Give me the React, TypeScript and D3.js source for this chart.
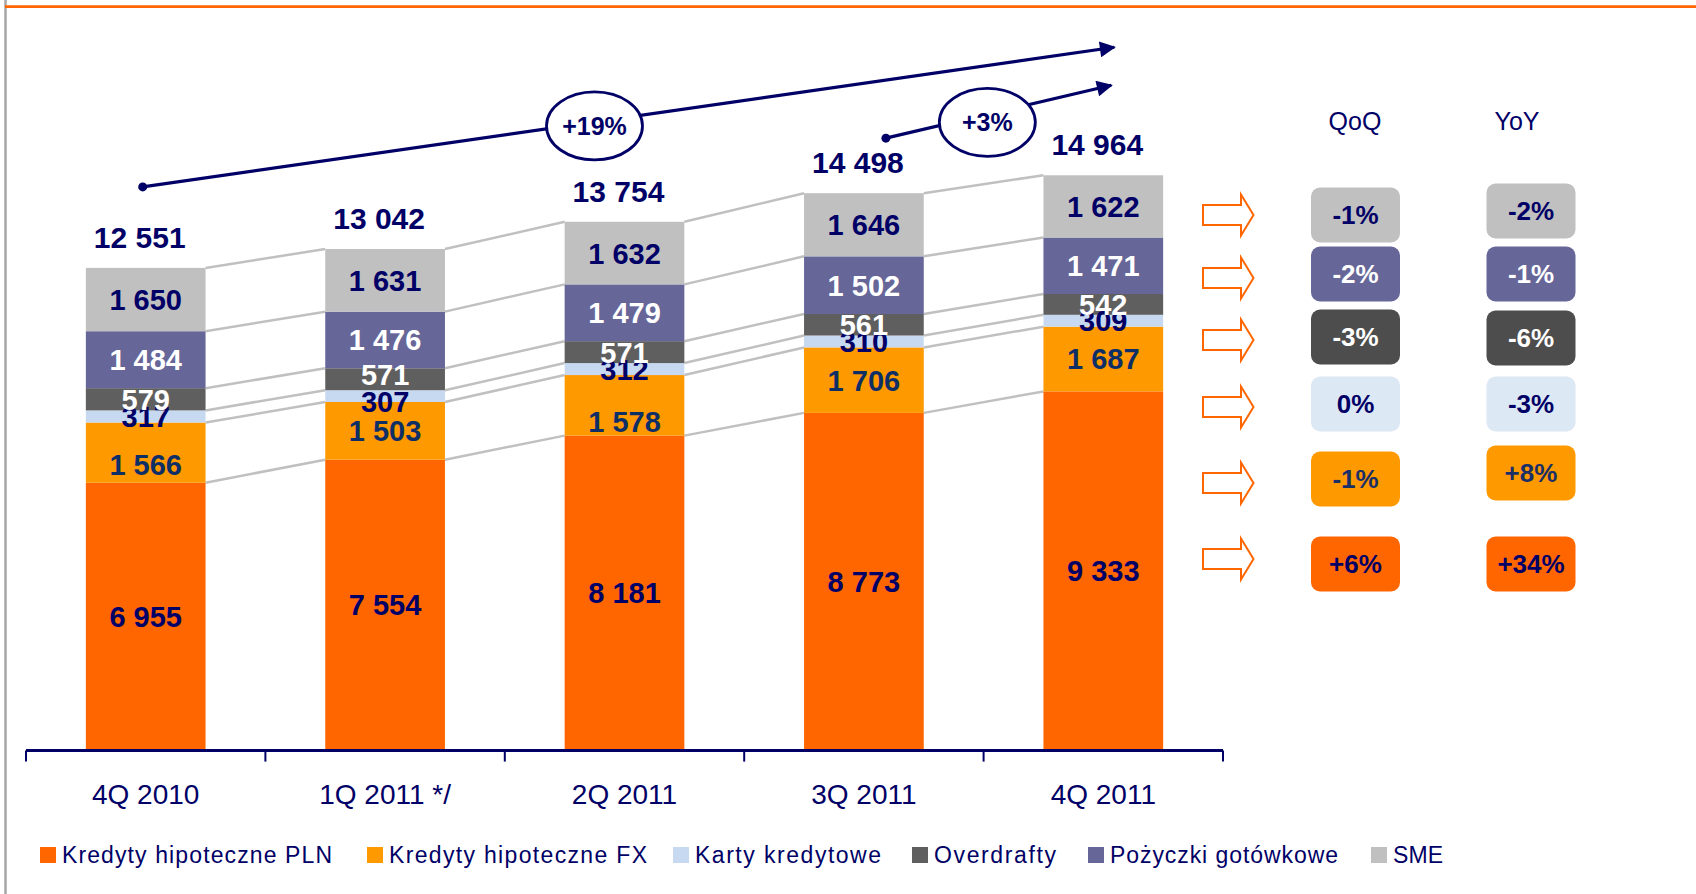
import React, { useEffect, useRef } from 'react';
import * as d3 from 'd3';

// chart data
const categories = ['4Q 2010', '1Q 2011 */', '2Q 2011', '3Q 2011', '4Q 2011'];
const seriesNames = [
  'Kredyty hipoteczne PLN',
  'Kredyty hipoteczne FX',
  'Karty kredytowe',
  'Overdrafty',
  'Pożyczki gotówkowe',
  'SME',
];
const hipotecznePLN = [6955, 7554, 8181, 8773, 9333];
const hipoteczneFX = [1566, 1503, 1578, 1706, 1687];
const kartyKredytowe = [317, 307, 312, 310, 309];
const overdrafty = [579, 571, 571, 561, 542];
const pozyczkiGotowkowe = [1484, 1476, 1479, 1502, 1471];
const sme = [1650, 1631, 1632, 1646, 1622];
const totals = [12551, 13042, 13754, 14498, 14964];
const growthLabels = ['+19%', '+3%'];
// same order as seriesNames
const qoq = ['+6%', '-1%', '0%', '-3%', '-2%', '-1%'];
const yoy = ['+34%', '+8%', '-3%', '-6%', '-1%', '-2%'];

const seriesValues = [hipotecznePLN, hipoteczneFX, kartyKredytowe, overdrafty, pozyczkiGotowkowe, sme];

const NAVY = '#000066';
const barColors = ['#FF6600', '#FF9900', '#C6D9F0', '#5F5F5F', '#666699', '#C0C0C0'];
const boxColors = ['#FF6600', '#FF9900', '#DDE8F5', '#4D4D4D', '#666699', '#C0C0C0'];
const labelColors = [NAVY, '#0E2F66', NAVY, '#FFFFFF', '#FFFFFF', NAVY];
const boxTextColors = [NAVY, '#1A2F66', NAVY, '#FFFFFF', '#FFFFFF', NAVY];

// manual label nudges (px), as placed in the original slide
const labelNudge: Record<string, number> = { '1-0': 12, '1-2': 16, '2-1': 5, '3-1': -5 };

// right panel layout (row centres, bottom row first)
const qoqRowY = [564, 479, 404, 337, 274, 215];
const yoyRowY = [564, 473, 404, 338, 274, 211];
const arrowRowY = [559, 483, 407, 340, 278, 215];
const legendX = [40, 367, 673, 912, 1088, 1371];
const legendTextWidth = [270, 258, 186, 122, 228, 50];

const FONT = '"Liberation Sans", Arial, sans-serif';

const App: React.FC = () => {
  const svgRef = useRef<SVGSVGElement>(null);

  useEffect(() => {
    const svg = d3.select(svgRef.current);
    svg.selectAll('*').remove();

    const width = 1696;
    const height = 894;
    svg.attr('width', width).attr('height', height).style('font-family', FONT);

    const rows = categories.map((c, i) => {
      const r: any = { cat: c };
      seriesNames.forEach((s, j) => (r[s] = seriesValues[j][i]));
      return r;
    });
    const stacked = d3.stack<any>().keys(seriesNames)(rows);

    const x = d3
      .scaleBand()
      .domain(categories)
      .range([26, 1223])
      .paddingInner(0.5)
      .paddingOuter(0.25);
    const step = x.step();
    const y = d3.scaleLinear().domain([0, 15000]).range([749.6, 749.6 - 15000 * 0.03838]);
    const xc = (i: number) => (x(categories[i]) as number) + x.bandwidth() / 2;
    const fmt = (v: number) => d3.format(',')(v).replace(/,/g, ' ');

    // frame lines
    svg.append('line')
      .attr('x1', 5.5).attr('x2', 5.5).attr('y1', 0).attr('y2', height)
      .attr('stroke', '#A6A6A6').attr('stroke-width', 2.5);
    svg.append('line')
      .attr('x1', 5).attr('x2', width).attr('y1', 6.7).attr('y2', 6.7)
      .attr('stroke', '#FF6600').attr('stroke-width', 2.7);

    // connector lines between bars
    const g = svg.append('g');
    stacked.forEach((layer) => {
      for (let i = 0; i < categories.length - 1; i++) {
        g.append('line')
          .attr('x1', (x(categories[i]) as number) + x.bandwidth())
          .attr('y1', y(layer[i][1]))
          .attr('x2', x(categories[i + 1]) as number)
          .attr('y2', y(layer[i + 1][1]))
          .attr('stroke', '#C0C0C0')
          .attr('stroke-width', 2.5);
      }
    });

    // bars
    stacked.forEach((layer, j) => {
      g.append('g')
        .selectAll('rect')
        .data(layer)
        .enter()
        .append('rect')
        .attr('x', (d) => x(d.data.cat) as number)
        .attr('width', x.bandwidth())
        .attr('y', (d) => y(d[1]))
        .attr('height', (d) => y(d[0]) - y(d[1]))
        .attr('fill', barColors[j]);
    });

    // segment labels
    stacked.forEach((layer, j) => {
      g.append('g')
        .selectAll('text')
        .data(layer)
        .enter()
        .append('text')
        .attr('x', (d) => (x(d.data.cat) as number) + x.bandwidth() / 2)
        .attr('y', (d, i) => (y(d[0]) + y(d[1])) / 2 + (labelNudge[`${j}-${i}`] || 0))
        .attr('dy', '0.36em')
        .attr('text-anchor', 'middle')
        .attr('font-size', 29)
        .attr('font-weight', 'bold')
        .attr('fill', labelColors[j])
        .text((d) => fmt(d[1] - d[0]));
    });

    // totals
    g.append('g')
      .selectAll('text')
      .data(totals)
      .enter()
      .append('text')
      .attr('x', (_, i) => xc(i) - 6)
      .attr('y', (d) => y(d) - 20)
      .attr('text-anchor', 'middle')
      .attr('font-size', 30)
      .attr('font-weight', 'bold')
      .attr('fill', NAVY)
      .text((d) => fmt(d));

    // x axis
    const axisY = y(0) + 1;
    svg.append('line')
      .attr('x1', 26).attr('x2', 1223).attr('y1', axisY).attr('y2', axisY)
      .attr('stroke', NAVY).attr('stroke-width', 3);
    d3.range(categories.length + 1).forEach((i) => {
      const tx = 26 + i * step;
      svg.append('line')
        .attr('x1', tx).attr('x2', tx).attr('y1', axisY).attr('y2', axisY + 11)
        .attr('stroke', NAVY).attr('stroke-width', 2);
    });
    svg.append('g')
      .selectAll('text')
      .data(categories)
      .enter()
      .append('text')
      .attr('x', (_, i) => xc(i))
      .attr('y', 804)
      .attr('text-anchor', 'middle')
      .attr('font-size', 28)
      .attr('fill', NAVY)
      .text((d) => d);

    // growth arrows
    const defs = svg.append('defs');
    defs.append('marker')
      .attr('id', 'arrowHead')
      .attr('viewBox', '0 0 10 10')
      .attr('refX', 9)
      .attr('refY', 5)
      .attr('markerWidth', 6)
      .attr('markerHeight', 5)
      .attr('markerUnits', 'strokeWidth')
      .attr('orient', 'auto')
      .append('path')
      .attr('d', 'M0,0 L10,5 L0,10 z')
      .attr('fill', NAVY);

    const arrows = [
      { x1: xc(0) - 3, y1: y(totals[0]) - 81, x2: xc(4) + 11, y2: y(totals[4]) - 128, t: 0.465, dy: 4 },
      { x1: xc(3) + 22, y1: y(totals[3]) - 55, x2: xc(4) + 8, y2: y(totals[4]) - 90, t: 0.45, dy: 8 },
    ];
    arrows.forEach((a, i) => {
      svg.append('line')
        .attr('x1', a.x1).attr('y1', a.y1).attr('x2', a.x2).attr('y2', a.y2)
        .attr('stroke', NAVY).attr('stroke-width', 3.2)
        .attr('marker-end', 'url(#arrowHead)');
      svg.append('circle')
        .attr('cx', a.x1).attr('cy', a.y1).attr('r', 4.5).attr('fill', NAVY);
      const cx = a.x1 + (a.x2 - a.x1) * a.t;
      const cy = a.y1 + (a.y2 - a.y1) * a.t + a.dy;
      svg.append('ellipse')
        .attr('cx', cx).attr('cy', cy).attr('rx', 48).attr('ry', 34)
        .attr('fill', '#FFFFFF').attr('stroke', NAVY).attr('stroke-width', 2.8);
      svg.append('text')
        .attr('x', cx).attr('y', cy).attr('dy', '0.36em')
        .attr('text-anchor', 'middle')
        .attr('font-size', 25).attr('font-weight', 'bold').attr('fill', NAVY)
        .text(growthLabels[i]);
    });

    // right panel
    const panel = svg.append('g');
    panel.append('text')
      .attr('x', 1355).attr('y', 130).attr('text-anchor', 'middle')
      .attr('font-size', 25).attr('fill', NAVY).text('QoQ');
    panel.append('text')
      .attr('x', 1517).attr('y', 130).attr('text-anchor', 'middle')
      .attr('font-size', 25).attr('fill', NAVY).text('YoY');

    seriesNames.forEach((_, j) => {
      const ay = arrowRowY[j];
      const ax = 1203;
      panel.append('path')
        .attr('d', `M${ax},${ay - 10} L${ax + 38},${ay - 10} L${ax + 38},${ay - 20.5} L${ax + 50.5},${ay} L${ax + 38},${ay + 20.5} L${ax + 38},${ay + 10} L${ax},${ay + 10} Z`)
        .attr('fill', '#FFFFFF').attr('stroke', '#FF6600').attr('stroke-width', 2);

      [
        { cx: 1355.5, cy: qoqRowY[j], label: qoq[j] },
        { cx: 1531, cy: yoyRowY[j], label: yoy[j] },
      ].forEach((b) => {
        panel.append('rect')
          .attr('x', b.cx - 44.5).attr('y', b.cy - 27.5)
          .attr('width', 89).attr('height', 55).attr('rx', 9)
          .attr('fill', boxColors[j]);
        panel.append('text')
          .attr('x', b.cx).attr('y', b.cy).attr('dy', '0.36em')
          .attr('text-anchor', 'middle')
          .attr('font-size', 26).attr('font-weight', 'bold')
          .attr('fill', boxTextColors[j])
          .text(b.label);
      });
    });

    // legend
    const legend = svg.append('g');
    seriesNames.forEach((name, j) => {
      legend.append('rect')
        .attr('x', legendX[j]).attr('y', 847).attr('width', 16).attr('height', 16)
        .attr('fill', barColors[j]);
      legend.append('text')
        .attr('x', legendX[j] + 22).attr('y', 863)
        .attr('font-size', 23).attr('fill', NAVY)
        .attr('textLength', legendTextWidth[j])
        .attr('lengthAdjust', 'spacing')
        .text(name);
    });
  }, []);

  return (
    <div style={{ position: 'absolute', left: 0, top: 0, background: '#fff' }}>
      <svg ref={svgRef}></svg>
    </div>
  );
};

export default App;
